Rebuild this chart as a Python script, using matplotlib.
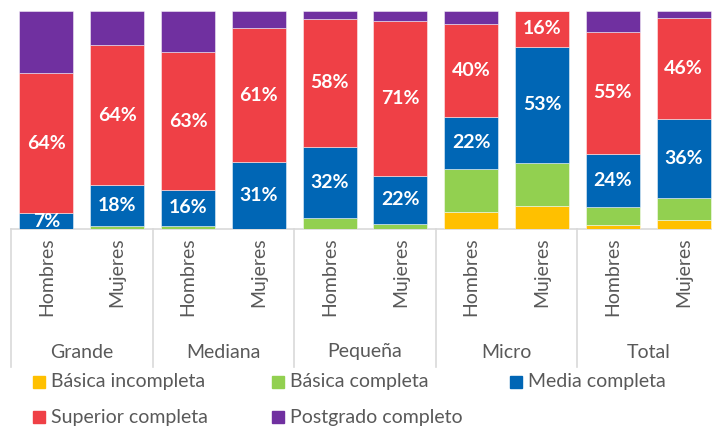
import matplotlib
matplotlib.use("Agg")
import matplotlib.pyplot as plt
from matplotlib.patches import Rectangle
from matplotlib.lines import Line2D
import numpy as np

plt.rcParams['font.family'] = ['Lato', 'DejaVu Sans']

groups = ["Grande", "Mediana", "Pequeña", "Micro", "Total"]
categories = ["Hombres", "Mujeres"] * 5
series = ["Básica incompleta", "Básica completa", "Media completa",
          "Superior completa", "Postgrado completo"]
colors = ["#FFC000", "#92D050", "#0066B5", "#EF4046", "#7030A0"]

basica_incompleta = [0.0, 0.0, 0.0, 0.0, 0.0, 0.0, 7.2, 10.4, 1.7, 4.1]
basica_completa   = [0.0, 1.6, 1.5, 0.0, 4.9, 2.5, 18.7, 19.8, 8.3, 10.1]
media_completa    = [7.2, 18.4, 16.3, 30.8, 32.4, 21.8, 22.0, 53.4, 24.2, 36.1]
superior_completa = [64.4, 64.2, 63.4, 61.3, 58.4, 71.3, 40.0, 16.3, 55.4, 46.2]
postgrado         = [28.4, 15.8, 18.8, 7.9, 3.5, 4.4, 5.6, 0.0, 9.6, 3.4]

data = [basica_incompleta, basica_completa, media_completa, superior_completa, postgrado]
labelled = [False, False, True, True, False]

W, H = 712, 429
slot = 70.8
fig = plt.figure(figsize=(W / 100, H / 100), dpi=100)
ax = fig.add_axes([11 / W, (H - 229) / H, 701 / W, 218 / H])

vals = np.array(data)
totals = vals.sum(axis=0)
pct = vals / totals * 100
x = np.arange(len(categories))
bottom = np.zeros(len(categories))
for i, name in enumerate(series):
    ax.bar(x, pct[i], 0.76, bottom=bottom, color=colors[i],
           edgecolor=(1, 1, 1, 0.55), linewidth=0.6, label=name, zorder=2)
    if labelled[i]:
        for j in range(len(x)):
            if vals[i][j] > 0:
                ax.text(x[j], bottom[j] + pct[i][j] / 2, f"{round(vals[i][j]):.0f}%",
                        ha="center", va="center", color="white",
                        fontsize=14, fontweight="bold", clip_on=True, zorder=3)
    bottom += pct[i]

ax.set_xlim(-0.5, -0.5 + 701 / slot)
ax.set_ylim(0, 100)
for s in ax.spines.values():
    s.set_visible(False)
ax.set_xticks([])
ax.set_yticks([])

# category tick labels
trans = ax.get_xaxis_transform()
for j, c in enumerate(categories):
    ax.text(x[j], -8 / 218, c, transform=trans, rotation=90, ha="center", va="top",
            fontsize=14, color="#595959", clip_on=False)

# group labels
for g, name in enumerate(groups):
    ax.text(2 * g + 0.5, -123 / 218, name, transform=trans, ha="center", va="center",
            fontsize=14, color="#595959", clip_on=False)

# axis line and separators
line_col = "#D9D9D9"
ax.add_line(Line2D([-0.5, 10], [0, 0], transform=trans, color=line_col, lw=1.2,
                   clip_on=False, zorder=1))
for g in range(6):
    xs = -0.5 + 2 * g
    ax.add_line(Line2D([xs, xs], [0, -138 / 218], transform=trans, color=line_col,
                       lw=1.2, clip_on=False, zorder=1))

# legend
for i, name in enumerate(series):
    col, row = i % 3, i // 3
    x0 = 33 + col * 238.5
    yc = H - (381.5 + row * 35.5)
    fig.patches.append(Rectangle(((x0) / W, (yc - 6) / H), 12 / W, 12 / H,
                                 transform=fig.transFigure, color=colors[i]))
    fig.text((x0 + 18) / W, yc / H, name, ha="left", va="center",
             fontsize=14, color="#595959")

fig.savefig("out.png", dpi=100)
